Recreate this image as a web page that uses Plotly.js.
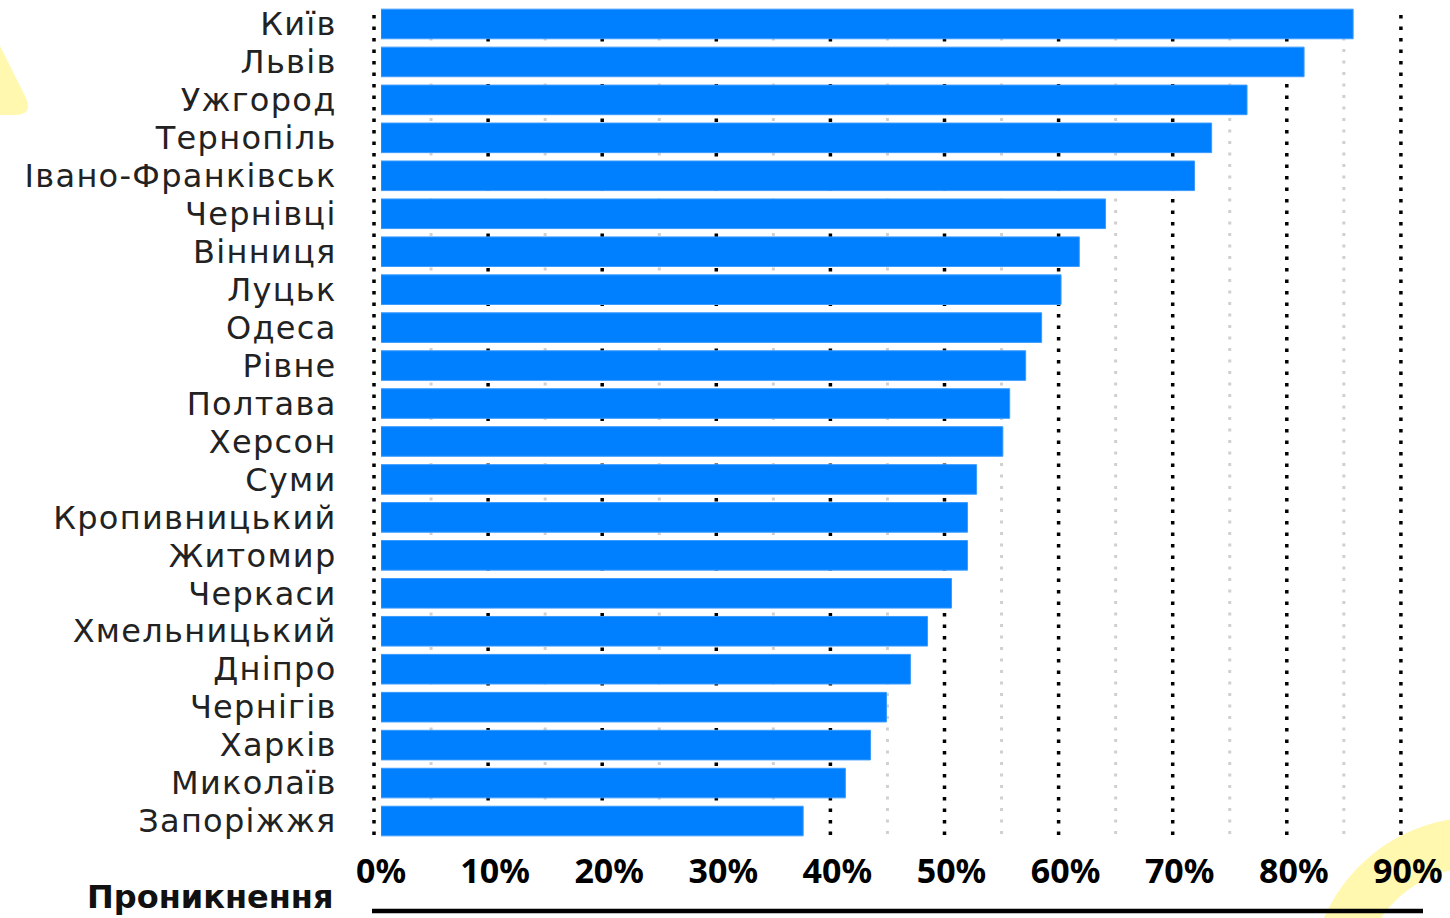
<!DOCTYPE html>
<html><head><meta charset="utf-8">
<script src="https://cdn.plot.ly/plotly-3.0.1.min.js"></script>
<style>html,body{margin:0;padding:0;background:#fff;}#chart{width:1450px;height:918px;}
#chart .ytick text{letter-spacing:1.3px;}</style>
</head><body><div id="chart"></div>
<script>
// ---- data ----
const cities = ['Київ','Львів','Ужгород','Тернопіль','Івано-Франківськ','Чернівці','Вінниця','Луцьк','Одеса','Рівне','Полтава','Херсон','Суми','Кропивницький','Житомир','Черкаси','Хмельницький','Дніпро','Чернігів','Харків','Миколаїв','Запоріжжя'];
const penetration = [85.2, 80.9, 75.9, 72.8, 71.3, 63.5, 61.2, 59.6, 57.9, 56.5, 55.1, 54.5, 52.2, 51.4, 51.4, 50.0, 47.9, 46.4, 44.3, 42.9, 40.7, 37.0];
const tickValues = [0,10,20,30,40,50,60,70,80,90];
const tickLabels = ['0%','10%','20%','30%','40%','50%','60%','70%','80%','90%'];
const axisTitle = 'Проникнення';

// ---- geometry / style ----
const W = 1450, H = 918;
const M = {l:381, r:8, t:5, b:78};
const PW = W - M.l - M.r, PH = H - M.t - M.b;
const PX_PER_UNIT = 11.41;
const pxX = x => (x - M.l) / PW;
const pxY = y => 1 - (y - M.t) / PH;
const gridShiftPx = 7;
const yellow = 'rgba(255,248,170,0.95)';

const shapes = [];
// dotted grid (positioned on the axis scale, shifted slightly left as in the original)
const gx = v => pxX(M.l + v * PX_PER_UNIT - gridShiftPx);
tickValues.forEach(v => {
  shapes.push({type:'line', layer:'below', xref:'paper', yref:'paper', x0:gx(v), x1:gx(v), y0:pxY(835), y1:pxY(11),
    line:{color:'#000', width:3.5, dash:'3.5px,8px'}});
  if (v < 90) {
    shapes.push({type:'line', layer:'below', xref:'paper', yref:'paper', x0:gx(v+5), x1:gx(v+5), y0:pxY(834), y1:pxY(11),
      line:{color:'#d0d0d0', width:3, dash:'3px,8.5px'}});
  }
});
// bottom rule
shapes.push({type:'line', xref:'paper', yref:'paper', x0:pxX(372), x1:pxX(1423), y0:pxY(911), y1:pxY(911), line:{color:'#000', width:4.5}});
// decorative yellow triangle top-left
shapes.push({type:'path', layer:'below', xref:'paper', yref:'paper', line:{width:0}, fillcolor:yellow,
  path:`M ${pxX(-5)},${pxY(44)} L ${pxX(0)},${pxY(46)} L ${pxX(26)},${pxY(98)} Q ${pxX(33)},${pxY(114)} ${pxX(17)},${pxY(115)} L ${pxX(-5)},${pxY(115)} Z`});
// decorative yellow ring bottom-right
(function(){
  const cx = 1478, cy = 985, Ro = 168, Ri = 118;
  let p = '';
  const n = 60;
  for (let i = 0; i <= n; i++) {
    const a = Math.PI + Math.PI * i / n;
    p += (i === 0 ? 'M ' : ' L ') + pxX(cx + Ro*Math.cos(a)) + ',' + pxY(cy + Ro*Math.sin(a));
  }
  for (let i = n; i >= 0; i--) {
    const a = Math.PI + Math.PI * i / n;
    p += ' L ' + pxX(cx + Ri*Math.cos(a)) + ',' + pxY(cy + Ri*Math.sin(a));
  }
  p += ' Z';
  shapes.push({type:'path', layer:'below', xref:'paper', yref:'paper', line:{width:0}, fillcolor:yellow, path:p});
})();

const trace = {
  type:'bar', orientation:'h',
  x: penetration, y: cities,
  width: 0.78,
  marker:{color:'#0080FF', line:{color:'#3b9bff', width:1}},
  hoverinfo:'x+y'
};

const layout = {
  width: W, height: H,
  margin: M,
  paper_bgcolor:'rgba(0,0,0,0)', plot_bgcolor:'rgba(0,0,0,0)',
  showlegend:false,
  xaxis:{range:[0, PW/PX_PER_UNIT], tickvals:tickValues, ticktext:tickLabels, showgrid:false, zeroline:false, showline:false,
    ticks:'outside', ticklen:1, tickcolor:'rgba(0,0,0,0)',
    tickfont:{family:'Noto Sans', size:34, color:'#000', weight:700}},
  yaxis:{type:'category', autorange:'reversed', showgrid:false, zeroline:false, showline:false,
    tickmode:'array', tickvals:cities, ticktext:cities,
    ticks:'outside', ticklen:37, tickcolor:'rgba(0,0,0,0)',
    tickfont:{family:'DejaVu Sans', size:32, color:'#222'}},
  shapes: shapes,
  annotations:[{text:axisTitle, xref:'paper', yref:'paper', x:pxX(336), y:pxY(897), xanchor:'right', yanchor:'middle', showarrow:false,
    font:{family:'DejaVu Sans', size:32, color:'#111', weight:700}}]
};

Plotly.newPlot('chart', [trace], layout, {displayModeBar:false, staticPlot:true});
</script>
</body></html>
